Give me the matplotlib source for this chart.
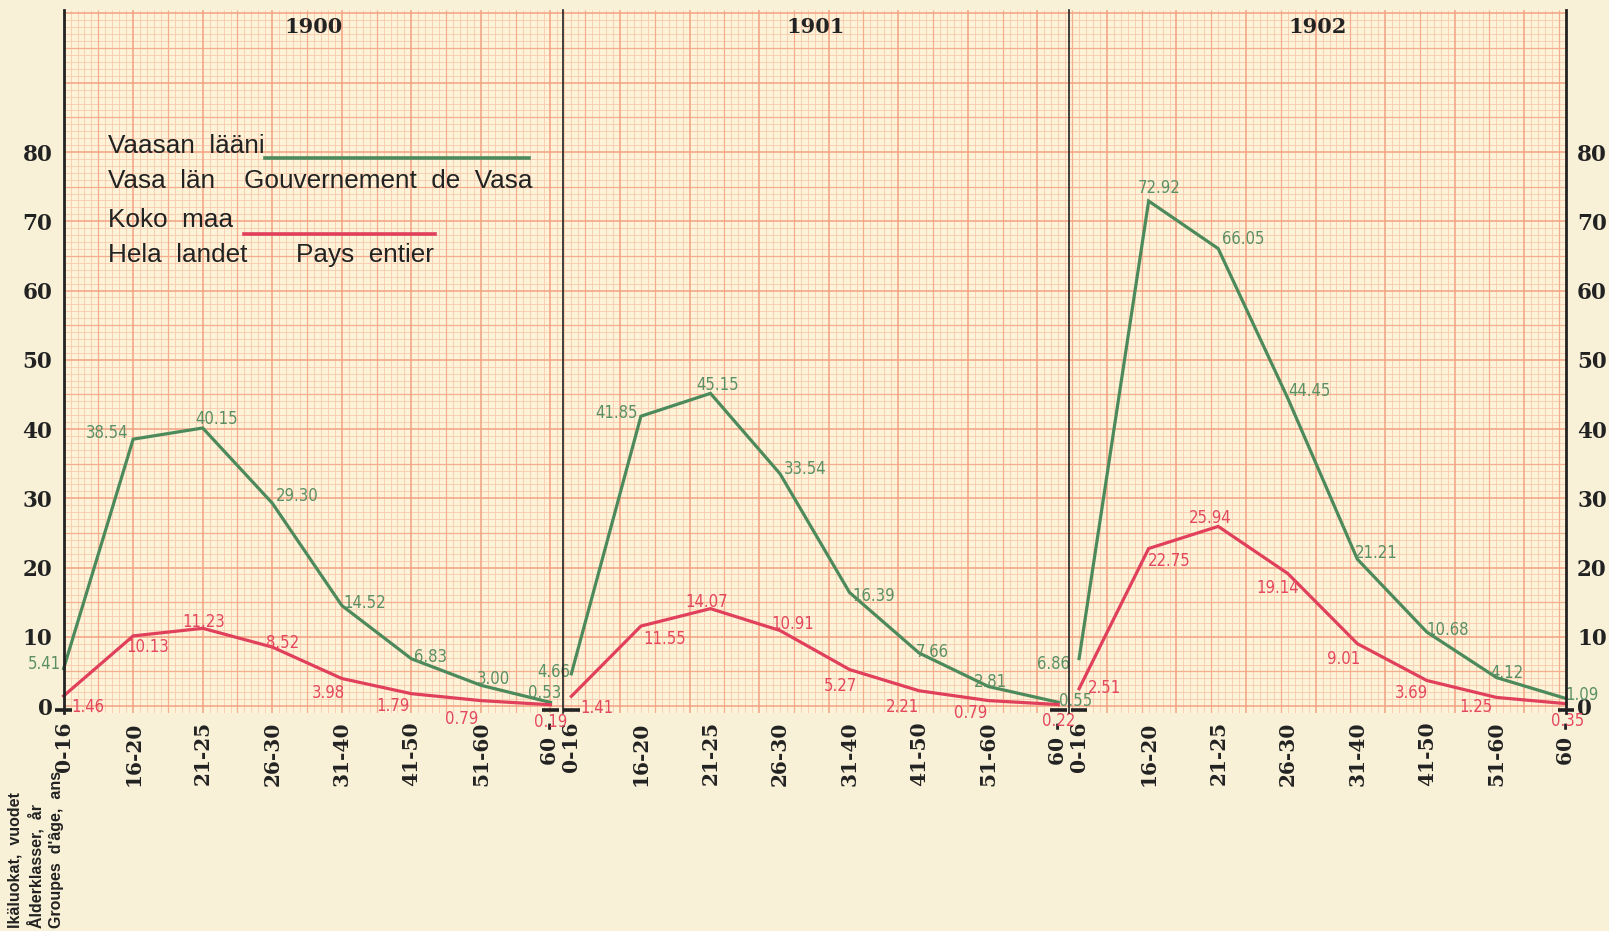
import matplotlib
matplotlib.use("Agg")
import matplotlib.pyplot as plt
from matplotlib.collections import LineCollection
import numpy as np

# ---------------- data ----------------
age_groups = ['0-16', '16-20', '21-25', '26-30', '31-40', '41-50', '51-60', '60 -']
years = ['1900', '1901', '1902']

vaasa_1900 = [5.41, 38.54, 40.15, 29.30, 14.52, 6.83, 3.00, 0.53]
vaasa_1901 = [4.66, 41.85, 45.15, 33.54, 16.39, 7.66, 2.81, 0.55]
vaasa_1902 = [6.86, 72.92, 66.05, 44.45, 21.21, 10.68, 4.12, 1.09]

koko_1900 = [1.46, 10.13, 11.23, 8.52, 3.98, 1.79, 0.79, 0.19]
koko_1901 = [1.41, 11.55, 14.07, 10.91, 5.27, 2.21, 0.79, 0.22]
koko_1902 = [2.51, 22.75, 25.94, 19.14, 9.01, 3.69, 1.25, 0.35]

y_ticks = [0, 10, 20, 30, 40, 50, 60, 70, 80]

# label offsets (pixels) for value annotations
off_green = [
    [(-19, 5), (-26, 6), (14, 9), (25, 7), (23, 3), (19, 2), (13, 6), (-6, 9)],
    [(-18, 2), (-24, 3), (7, 8), (25, 5), (24, -3), (13, 1), (2, 5), (17, 1)],
    [(-26, -5), (10, 13), (25, 10), (22, 7), (19, 6), (21, 2), (10, 5), (16, 4)],
]
off_red = [
    [(24, -11), (15, -11), (1, 6), (10, 4), (-13, -14), (-18, -12), (-19, -18), (0, -17)],
    [(26, -12), (24, -13), (-4, 7), (13, 7), (-9, -16), (-17, -16), (-18, -12), (0, -16)],
    [(25, 1), (21, -12), (-8, 8), (-10, -14), (-14, -15), (-16, -12), (-21, -10), (2, -17)],
]

# ---------------- style ----------------
FIG_BG = '#f8f1d7'
PAPER = '#fdf3d8'
GRID_MINOR = '#f9caae'
GRID_MID = '#f5ad8f'
GRID_MAJOR = '#f3a283'
GREEN = '#4d8a5b'
RED = '#e0405b'
GREEN_TXT = '#5b8f64'
RED_TXT = '#e4485f'
INK = '#222222'

W, H = 1609, 931
fig = plt.figure(figsize=(W / 100, H / 100), dpi=100, facecolor=FIG_BG)
ax = fig.add_axes([63.6 / W, 1 - 713 / H, (1566 - 63.6) / W, (713 - 10.3) / H])
ax.set_facecolor(PAPER)

n = len(age_groups)
panel_gap = 0.3
step = (n - 1) + panel_gap
xmax = (len(years) - 1) * step + (n - 1)
ax.set_xlim(0, xmax)
ax.set_ylim(-1, 100.46)

# graph paper
segs_minor, segs_mid, segs_major = [], [], []
for k in range(0, int(round(xmax * 10)) + 1):
    x = k / 10
    s = [(x, -1), (x, 100.46)]
    if k % 10 == 0:
        segs_major.append(s)
    elif k % 5 == 0:
        segs_mid.append(s)
    else:
        segs_minor.append(s)
for k in range(-1, 101):
    s = [(0, k), (xmax, k)]
    if k % 10 == 0:
        segs_major.append(s)
    elif k % 5 == 0:
        segs_mid.append(s)
    else:
        segs_minor.append(s)
ax.add_collection(LineCollection(segs_minor, colors=GRID_MINOR, linewidths=0.6, zorder=0.5))
ax.add_collection(LineCollection(segs_mid, colors=GRID_MID, linewidths=0.9, zorder=0.6))
ax.add_collection(LineCollection(segs_major, colors=GRID_MAJOR, linewidths=1.1, zorder=0.7))

greens = [vaasa_1900, vaasa_1901, vaasa_1902]
reds = [koko_1900, koko_1901, koko_1902]

label_font = dict(family='DejaVu Sans', fontsize=12, fontstretch='condensed')

# divider positions between panels
dividers = [p * step - 0.12 - 0.03 * (p - 1) for p in range(1, len(years))]
bounds = [0] + dividers + [xmax]

xtick_pos, xtick_lab = [], []
for p, year in enumerate(years):
    xs = [p * step + i for i in range(n)]
    xtick_pos += xs
    xtick_lab += age_groups
    ax.plot(xs, greens[p], color=GREEN, lw=2.3, zorder=3, clip_on=False, solid_joinstyle='miter')
    ax.plot(xs, reds[p], color=RED, lw=2.3, zorder=3, clip_on=False, solid_joinstyle='miter')
    for i in range(n):
        ax.annotate(f'{greens[p][i]:.2f}', (xs[i], greens[p][i]), xytext=off_green[p][i],
                    textcoords='offset pixels', ha='center', va='center', color=GREEN_TXT,
                    annotation_clip=False, zorder=4, **label_font)
        ax.annotate(f'{reds[p][i]:.2f}', (xs[i], reds[p][i]), xytext=off_red[p][i],
                    textcoords='offset pixels', ha='center', va='center', color=RED_TXT,
                    annotation_clip=False, zorder=4, **label_font)
    # panel title
    ax.text((bounds[p] + bounds[p + 1]) / 2, 98.1, year, ha='center', va='center',
            family='DejaVu Serif', fontweight='bold', fontsize=15, color=INK)
    # end markers at the base
    for xe in (xs[0], xs[-1]):
        ax.plot([xe - 0.12, xe + 0.12], [-0.55, -0.55], color=INK, lw=2.6, zorder=5,
                clip_on=False, solid_capstyle='butt')

for xd in dividers:
    ax.plot([xd, xd], [-1, 100.46], color=INK, lw=1.2, zorder=5, clip_on=False)

# axes / ticks
for side in ('top', 'bottom'):
    ax.spines[side].set_visible(False)
for side in ('left', 'right'):
    ax.spines[side].set_color(INK)
    ax.spines[side].set_linewidth(2.0)
    ax.spines[side].set_zorder(6)

ax.set_yticks(y_ticks)
ax.set_yticklabels([str(v) for v in y_ticks], family='DejaVu Serif', fontweight='bold',
                   fontsize=15.5, color=INK)
ax.tick_params(axis='y', length=0, pad=8, labelleft=True, labelright=True)
ax.set_xticks(xtick_pos)
ax.set_xticklabels(xtick_lab, rotation=90, family='DejaVu Serif', fontweight='bold',
                   fontsize=14.5, color=INK)
ax.tick_params(axis='x', length=0, pad=6)


def fx(x):
    return x / W


def fy(y):
    return 1 - y / H


legend_font = dict(family='Liberation Sans', fontsize=18.8, color=INK, va='center', ha='left')
fig.text(fx(107.7), fy(146), 'Vaasan  lääni', **legend_font)
fig.text(fx(107.7), fy(181), 'Vasa  län', **legend_font)
fig.text(fx(244), fy(181), 'Gouvernement  de  Vasa', **legend_font)
fig.text(fx(107.7), fy(220), 'Koko  maa', **legend_font)
fig.text(fx(107.7), fy(255), 'Hela  landet', **legend_font)
fig.text(fx(296.5), fy(255), 'Pays  entier', **legend_font)
fig.add_artist(plt.Line2D([fx(265), fx(529)], [fy(158), fy(158)], color=GREEN, lw=2.6))
fig.add_artist(plt.Line2D([fx(244), fx(435)], [fy(234), fy(234)], color=RED, lw=2.6))

side_font = dict(family='Liberation Sans', fontweight='bold', fontsize=11.5, color=INK,
                 rotation=90, rotation_mode='anchor', ha='left', va='center')
fig.text(fx(15.5), fy(928), 'Ikäluokat,  vuodet', **side_font)
fig.text(fx(36), fy(928), 'Ålderklasser,  år', **side_font)
fig.text(fx(56.5), fy(928), "Groupes  d'âge,  ans", **side_font)

fig.savefig('out.png', dpi=100, facecolor=FIG_BG)
